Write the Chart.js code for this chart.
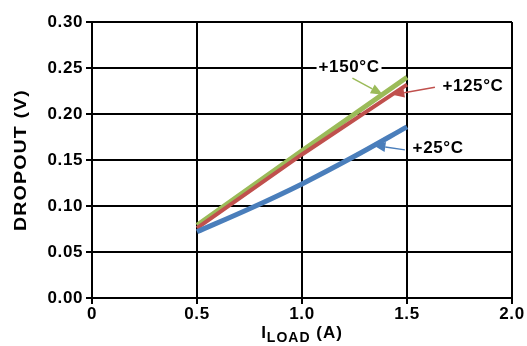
<!DOCTYPE html>
<html>
<head>
<meta charset="utf-8">
<script src="https://cdn.jsdelivr.net/npm/chart.js@4/dist/chart.umd.min.js"></script>
<style>
  html, body { margin: 0; padding: 0; background: #fff; }
  #wrap { width: 527px; height: 346px; }
</style>
</head>
<body>
<div id="wrap"><canvas id="myChart" width="527" height="346"></canvas></div>
<script>
// load current (A) and dropout voltage (V) per temperature
var load25 = [0.5, 0.75, 1.0, 1.25, 1.5]
var drop25 = [0.072, 0.097, 0.124, 0.154, 0.186]
var load125 = [0.5, 1.0, 1.5]
var drop125 = [0.076, 0.156, 0.232]
var load150 = [0.5, 1.0, 1.5]
var drop150 = [0.079, 0.160, 0.240]

var xTicks = [0, 0.5, 1.0, 1.5, 2.0]
var yTicks = [0, 0.05, 0.10, 0.15, 0.20, 0.25, 0.30]

// callout labels: text position and arrow (tail -> tip), in data units
var callouts = [
  { text: '+150°C', color: '#9BBB59', at: [1.224, 0.2505], tail: [1.24, 0.239], tip: [1.385, 0.221] },
  { text: '+125°C', color: '#C0504D', at: [1.814, 0.2304], tail: [1.633, 0.229], tip: [1.43, 0.221] },
  { text: '+25°C', color: '#4A7EBB', at: [1.648, 0.163], tail: [1.49, 0.161], tip: [1.34, 0.166] }
]

function pts(xs, ys) {
  return xs.map(function (x, i) { return { x: x, y: ys[i] } })
}

const FAMILY = '"Liberation Sans", Arial, sans-serif'
const FONT = 'bold 17px ' + FAMILY

const calloutPlugin = {
  id: 'callouts',
  beforeDraw(chart) {
    // slightly wider text
    chart.ctx.letterSpacing = '0.6px'
  },
  afterDatasetsDraw(chart) {
    const ctx = chart.ctx
    const xs = chart.scales.x, ys = chart.scales.y
    ctx.save()
    ctx.font = FONT
    ctx.textAlign = 'center'
    ctx.textBaseline = 'middle'
    callouts.forEach(function (c) {
      const tx = xs.getPixelForValue(c.at[0]), ty = ys.getPixelForValue(c.at[1])
      const w = ctx.measureText(c.text).width
      ctx.fillStyle = '#fff'
      ctx.fillRect(tx - w / 2 - 2, ty - 8, w + 4, 16)
      ctx.fillStyle = '#000'
      ctx.fillText(c.text, tx, ty)

      const x0 = xs.getPixelForValue(c.tail[0]), y0 = ys.getPixelForValue(c.tail[1])
      const x1 = xs.getPixelForValue(c.tip[0]), y1 = ys.getPixelForValue(c.tip[1])
      const a = Math.atan2(y1 - y0, x1 - x0)
      const head = 12, half = 5
      const bx = x1 - head * Math.cos(a), by = y1 - head * Math.sin(a)
      ctx.strokeStyle = c.color
      ctx.lineWidth = 1.5
      ctx.beginPath()
      ctx.moveTo(x0, y0)
      ctx.lineTo(bx, by)
      ctx.stroke()
      ctx.fillStyle = c.color
      ctx.beginPath()
      ctx.moveTo(x1, y1)
      ctx.lineTo(bx + half * Math.sin(a), by - half * Math.cos(a))
      ctx.lineTo(bx - half * Math.sin(a), by + half * Math.cos(a))
      ctx.closePath()
      ctx.fill()
    })

    // axis titles
    ctx.fillStyle = '#000'
    const area = chart.chartArea
    ctx.save()
    ctx.letterSpacing = '1px'
    ctx.translate(21, (area.top + area.bottom) / 2)
    ctx.rotate(-Math.PI / 2)
    ctx.scale(1.15, 1)
    ctx.fillText('DROPOUT (V)', 0, 0)
    ctx.restore()

    ctx.letterSpacing = '1px'
    const parts = [['I', FONT, 0], ['LOAD', 'bold 14px ' + FAMILY, 4], [' (A)', FONT, 0]]
    let total = 0
    parts.forEach(function (p) { ctx.font = p[1]; total += ctx.measureText(p[0]).width })
    let x = (area.left + area.right) / 2 - total / 2
    const base = 338
    ctx.textAlign = 'left'
    ctx.textBaseline = 'alphabetic'
    parts.forEach(function (p) {
      ctx.font = p[1]
      ctx.fillText(p[0], x, base + p[2])
      x += ctx.measureText(p[0]).width
    })
    ctx.restore()
  }
}

const data = {
  datasets: [
    { label: '+25°C', data: pts(load25, drop25), borderColor: '#4A7EBB', borderWidth: 5, cubicInterpolationMode: 'monotone' },
    { label: '+125°C', data: pts(load125, drop125), borderColor: '#C0504D', borderWidth: 4 },
    { label: '+150°C', data: pts(load150, drop150), borderColor: '#9BBB59', borderWidth: 5 }
  ]
}

const tickFont = { family: FAMILY, size: 17, weight: 'bold' }

const config = {
  type: 'line',
  data: data,
  options: {
    animation: false,
    responsive: false,
    devicePixelRatio: 1,
    layout: { padding: { top: 22, right: 15, left: 0, bottom: 0 } },
    elements: { point: { radius: 0 }, line: { borderCapStyle: 'butt', fill: false } },
    plugins: { legend: { display: false }, tooltip: { enabled: false } },
    scales: {
      x: {
        type: 'linear',
        min: 0,
        max: 2,
        afterFit: function (s) { s.height = 48 },
        afterBuildTicks: function (s) { s.ticks = xTicks.map(function (v) { return { value: v } }) },
        grid: { color: '#000', lineWidth: 2, tickLength: 6 },
        border: { color: '#000', width: 2 },
        ticks: {
          color: '#000', font: tickFont, padding: 0, maxRotation: 0,
          callback: function (v) { return v === 0 ? '0' : v.toFixed(1) }
        }
      },
      y: {
        min: 0,
        max: 0.3,
        afterFit: function (s) { s.width = 92 },
        afterBuildTicks: function (s) { s.ticks = yTicks.map(function (v) { return { value: v } }) },
        grid: { color: '#000', lineWidth: 2, tickLength: 6 },
        border: { color: '#000', width: 2 },
        ticks: {
          color: '#000', font: tickFont, padding: 3,
          callback: function (v) { return v.toFixed(2) }
        }
      }
    }
  },
  plugins: [calloutPlugin]
}

const myChart = new Chart(document.getElementById('myChart'), config)
</script>
</body>
</html>
